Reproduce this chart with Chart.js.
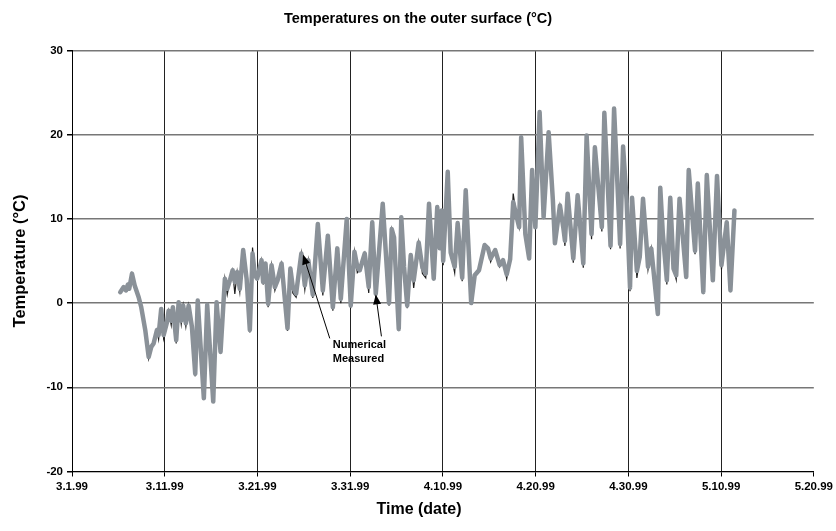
<!DOCTYPE html>
<html>
<head>
<meta charset="utf-8">
<script src="https://cdn.jsdelivr.net/npm/chart.js@4/dist/chart.umd.min.js"></script>
<style>
  body { margin: 0; background: #fff; }
  #wrap { width: 836px; height: 531px; position: relative; }
</style>
</head>
<body>
<div id="wrap"><canvas id="tempChart"></canvas></div>
<script>
// days since 3.1.99 for each reading
const days = [5.20, 5.57, 5.82, 6.03, 6.17, 6.47, 6.76, 7.19, 7.47, 7.90,
  8.27, 8.55, 8.80, 9.16, 9.34, 9.62, 9.88, 10.24, 10.42, 10.70,
  10.88, 11.24, 11.50, 11.78, 11.99, 12.28, 12.58, 12.93, 13.29, 13.56,
  14.22, 14.58, 15.23, 15.59, 16.02, 16.49, 16.74, 17.03, 17.32, 17.56,
  17.81, 18.10, 18.46, 18.83, 19.18, 19.47, 19.72, 19.97, 20.44, 20.61,
  20.87, 21.15, 21.52, 21.88, 22.17, 22.60, 22.77, 23.24, 23.55, 23.81,
  24.17, 24.73, 25.11, 25.48, 25.97, 26.51, 27.05, 27.59, 28.13, 28.61,
  28.99, 29.63, 30.06, 30.46, 30.77, 31.03, 31.57, 32.00, 32.38, 32.76,
  33.51, 34.19, 34.48, 34.73, 35.24, 35.51, 35.81, 36.15, 36.53, 36.85,
  37.39, 37.79, 38.15, 38.50, 39.01, 39.39, 39.66, 39.87, 40.03, 40.52,
  40.84, 41.27, 41.59, 42.08, 42.46, 43.05, 43.43, 43.89, 44.50, 44.86,
  45.15, 45.64, 46.12, 46.48, 46.88, 47.25, 47.58, 47.92, 48.22, 48.44,
  48.89, 49.30, 49.62, 49.97, 50.43, 50.86, 51.40, 51.86, 52.08, 52.62,
  52.98, 53.16, 53.45, 54.06, 54.53, 55.14, 55.50, 56.03, 56.39, 57.14,
  57.41, 58.08, 58.46, 59.11, 59.43, 59.81, 60.18, 60.40, 60.92, 61.23,
  61.58, 61.93, 62.12, 62.47, 63.18, 63.44, 63.72, 64.15, 64.52, 64.87,
  65.16, 65.52, 66.24, 66.51, 67.19, 67.49, 68.08, 68.46, 69.11, 69.56,
  70.04, 70.61, 71.01, 71.44];

const numerical = [1.3, 1.9, 1.5, 2.2, 1.7, 3.5, 2.1, 0.7, -0.5, -3.2,
  -6.4, -5.2, -4.8, -3.2, -3.8, -0.7, -3.8, -2.3, -0.9, -2.1,
  -0.5, -4.4, 0.1, -2.1, -0.3, -2.4, -0.3, -2.8, -8.4, 0.3,
  -11.3, -0.2, -11.7, 0.1, -5.8, 2.9, 1.7, 2.7, 3.9, 2.5,
  3.7, 1.7, 6.3, 2.9, -3.2, 5.9, 3.3, 2.9, 5.1, 2.5,
  4.7, -0.1, 4.5, 1.9, 2.7, 4.7, 2.7, -3.0, 4.1, 1.9,
  1.1, 5.9, 2.1, 5.1, 1.0, 9.4, 1.5, 8.0, -0.5, 6.5,
  0.5, 10.0, -0.3, 6.1, 4.3, 3.9, 5.9, 1.9, 9.6, 1.1,
  11.8, 0.0, 8.8, 7.8, -3.1, 10.2, 4.3, -0.3, 5.7, 2.7,
  7.2, 4.2, 3.5, 11.8, 2.9, 11.4, 6.5, 11.0, 5.0, 15.6,
  6.0, 4.3, 9.5, 3.0, 13.4, 0.0, 3.3, 3.9, 6.9, 6.5,
  5.3, 6.3, 4.5, 5.1, 3.4, 5.2, 12.0, 10.4, 9.0, 19.7,
  8.2, 5.3, 15.8, 9.0, 22.7, 10.2, 20.3, 12.2, 7.1, 11.6,
  9.0, 7.4, 13.0, 5.3, 12.8, 4.7, 19.9, 8.2, 18.5, 9.0,
  22.6, 6.8, 23.1, 7.0, 18.6, 12.2, 1.8, 12.5, 3.8, 5.5,
  12.4, 7.4, 4.3, 6.5, -1.3, 13.7, 8.2, 2.7, 12.5, 4.1,
  3.3, 12.4, 3.1, 15.8, 6.2, 14.2, 1.3, 15.2, 2.7, 15.1,
  4.5, 9.6, 1.5, 11.0];

const measured = [1.3, 1.9, 1.5, 2.2, 1.7, 3.5, 2.1, 0.7, -0.5, -3.2,
  -6.6, -5.2, -4.8, -3.2, -4.3, -0.7, -4.2, -2.3, -0.9, -2.6,
  -0.5, -4.8, 0.1, -2.5, -0.3, -2.8, -0.3, -3.3, -8.7, 0.3,
  -11.5, -0.2, -11.8, 0.1, -6.0, 2.9, 1.0, 2.7, 3.9, 1.1,
  3.7, 1.3, 6.3, 2.9, -3.5, 6.6, 3.3, 2.9, 5.1, 2.2,
  4.7, -0.5, 4.5, 1.5, 2.7, 4.7, 2.7, -3.3, 4.1, 1.2,
  0.7, 5.9, 1.6, 5.1, 0.6, 9.6, 0.9, 8.0, -0.9, 6.5,
  0.0, 10.0, -0.6, 6.1, 3.6, 3.9, 5.9, 1.2, 9.6, 0.6,
  11.8, -0.3, 8.8, 7.8, -3.2, 10.2, 4.3, -0.6, 5.7, 1.8,
  7.2, 3.5, 3.0, 11.8, 2.9, 11.4, 6.5, 11.0, 4.5, 15.6,
  6.0, 3.6, 9.5, 2.6, 13.4, -0.2, 3.3, 3.9, 6.9, 6.3,
  4.9, 6.3, 4.3, 5.1, 2.9, 5.2, 13.0, 10.4, 9.0, 19.7,
  8.2, 5.3, 15.8, 9.0, 22.7, 10.2, 20.3, 12.2, 7.1, 11.6,
  9.0, 6.8, 13.0, 4.8, 12.8, 4.2, 19.9, 7.6, 18.5, 8.5,
  22.6, 6.4, 23.1, 6.5, 18.6, 12.2, 1.4, 12.5, 3.0, 5.5,
  12.4, 7.4, 4.0, 6.5, -1.3, 13.7, 8.2, 2.2, 12.5, 4.1,
  2.8, 12.4, 3.1, 15.8, 5.8, 14.2, 1.3, 15.2, 2.7, 15.1,
  4.0, 9.6, 1.5, 11.0];

const dateLabels = ['3.1.99', '3.11.99', '3.21.99', '3.31.99', '4.10.99',
  '4.20.99', '4.30.99', '5.10.99', '5.20.99'];

// callout labels: [text, day, value] and arrows [fromDay, fromValue, toDay, toValue]
const calloutText = [['Numerical', 28.13, -5.38], ['Measured', 28.13, -7.04]];
const calloutArrows = [[27.8, -4.19, 24.92, 5.78], [33.37, -3.95, 32.76, 1.03]];

const FONT = '"Liberation Sans", Arial, Helvetica, sans-serif';

const numericalPts = days.map((d, i) => ({ x: d, y: numerical[i] }));
const measuredPts = days.map((d, i) => ({ x: d, y: measured[i] }));

const extraText = {
    id: 'extraText',
    afterDatasetsDraw(chart) {
        const { ctx, scales: { x, y } } = chart;
        ctx.save();
        // arrows
        ctx.strokeStyle = '#000';
        ctx.fillStyle = '#000';
        ctx.lineWidth = 1;
        calloutArrows.forEach(a => {
            const x0 = x.getPixelForValue(a[0]), y0 = y.getPixelForValue(a[1]);
            const x1 = x.getPixelForValue(a[2]), y1 = y.getPixelForValue(a[3]);
            const ang = Math.atan2(y1 - y0, x1 - x0);
            const len = 10, half = 4;
            ctx.beginPath();
            ctx.moveTo(x0, y0);
            ctx.lineTo(x1 - Math.cos(ang) * len * 0.8, y1 - Math.sin(ang) * len * 0.8);
            ctx.stroke();
            ctx.beginPath();
            ctx.moveTo(x1, y1);
            ctx.lineTo(x1 - Math.cos(ang) * len - Math.sin(ang) * half, y1 - Math.sin(ang) * len + Math.cos(ang) * half);
            ctx.lineTo(x1 - Math.cos(ang) * len + Math.sin(ang) * half, y1 - Math.sin(ang) * len - Math.cos(ang) * half);
            ctx.closePath();
            ctx.fill();
        });
        ctx.font = 'bold 11px ' + FONT;
        ctx.textAlign = 'left';
        ctx.textBaseline = 'alphabetic';
        calloutText.forEach(t => {
            ctx.fillText(t[0], x.getPixelForValue(t[1]), y.getPixelForValue(t[2]));
        });
        ctx.restore();
    },
    afterDraw(chart) {
        const { ctx, chartArea } = chart;
        ctx.save();
        ctx.fillStyle = '#000';
        ctx.textAlign = 'center';
        ctx.textBaseline = 'middle';
        ctx.font = 'bold 14.5px ' + FONT;
        ctx.fillText('Temperatures on the outer surface (°C)', 418, 19);
        ctx.font = 'bold 16px ' + FONT;
        ctx.fillText('Time (date)', 419, 510);
        ctx.translate(20, (chartArea.top + chartArea.bottom) / 2);
        ctx.rotate(-Math.PI / 2);
        ctx.font = 'bold 16.5px ' + FONT;
        ctx.fillText('Temperature (°C)', 0, 0);
        ctx.restore();
    }
};

new Chart(document.getElementById('tempChart'), {
    type: 'line',
    data: {
        datasets: [{
            label: 'Numerical',
            data: numericalPts,
            borderColor: '#8a9198',
            borderWidth: 4.5,
            pointRadius: 0,
            tension: 0,
            borderJoinStyle: 'round',
            borderCapStyle: 'round'
        }, {
            label: 'Measured',
            data: measuredPts,
            borderColor: '#1e1e1e',
            borderWidth: 1.2,
            pointRadius: 0,
            tension: 0
        }]
    },
    options: {
        responsive: true,
        maintainAspectRatio: false,
        animation: false,
        layout: { padding: { left: 0, right: 22, top: 50.5, bottom: 0 } },
        plugins: {
            legend: { display: false },
            tooltip: { enabled: false },
            title: { display: false }
        },
        scales: {
            x: {
                type: 'linear',
                min: 0,
                max: 80,
                afterFit: s => { s.height = 59.5; },
                ticks: {
                    stepSize: 10,
                    color: '#000',
                    font: { family: FONT, size: 11.5, weight: 'bold' },
                    padding: 3,
                    maxRotation: 0,
                    callback: v => dateLabels[Math.round(v / 10)]
                },
                grid: {
                    // no frame line at the right end
                    color: c => c.index === dateLabels.length - 1 ? 'rgba(0,0,0,0)' : '#222',
                    lineWidth: 1,
                    tickLength: 5,
                    tickColor: '#000'
                },
                border: { color: '#000', width: 1 }
            },
            y: {
                min: -20,
                max: 30,
                afterFit: s => { s.width = 72; },
                ticks: {
                    stepSize: 10,
                    color: '#000',
                    font: { family: FONT, size: 11.5, weight: 'bold' },
                    padding: 4
                },
                grid: { color: '#777', lineWidth: 1.5, tickLength: 5, tickColor: '#000' },
                border: { color: '#000', width: 1 }
            }
        }
    },
    plugins: [extraText]
});
</script>
</body>
</html>
